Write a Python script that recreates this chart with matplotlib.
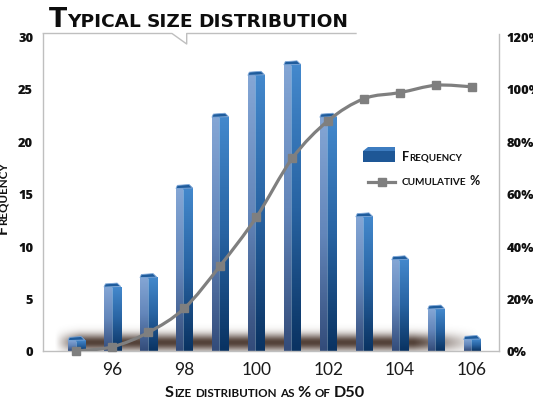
import numpy as np
import matplotlib
matplotlib.use("Agg")
import matplotlib.pyplot as plt
from matplotlib.colors import LinearSegmentedColormap
from matplotlib.lines import Line2D
from matplotlib.patches import PathPatch, Polygon, Rectangle
from matplotlib.path import Path

W, H = 533, 406

sizes = [95, 96, 97, 98, 99, 100, 101, 102, 103, 104, 105, 106]
frequency = [1.0, 6.1, 7.0, 15.5, 22.3, 26.3, 27.3, 22.3, 12.8, 8.7, 4.0, 1.1]
cumulative_pct = [0.0, 1.6, 7.1, 16.3, 32.6, 51.0, 73.5, 87.9, 96.3, 98.6, 101.4, 100.8]

x_ticks = [96, 98, 100, 102, 104, 106]
freq_ticks = [0, 5, 10, 15, 20, 25, 30]
pct_ticks = [0, 20, 40, 60, 80, 100, 120]

FONT = "Lato"
TICK_FONT = "Open Sans"
TITLE_FONT = "DejaVu Sans"
GRID = "#bfbfbf"
LINE = "#7f7f7f"

right_face = LinearSegmentedColormap.from_list("rf", ["#0a3362", "#2863a2", "#4388cc"])
left_face = LinearSegmentedColormap.from_list("lf", ["#334c7a", "#6386ba", "#84a6d5"])


def px(x, y):
    return x / W, 1 - y / H


def smallcaps(fig, x, y, text, big, small, center=False, rotation=0,
              family=FONT, **kw):
    # fake small caps: capitals/digits/% big, lower case letters as small capitals
    renderer = fig.canvas.get_renderer()
    pieces = []
    for i, word in enumerate(text.split(" ")):
        if i:
            pieces.append(None)
        run, size = "", None
        for ch in word:
            s = small if ch.islower() else big
            if size is not None and s != size:
                pieces.append((run, size))
                run = ""
            run += ch.upper()
            size = s
        pieces.append((run, size))

    artists, advances = [], []
    for p in pieces:
        if p is None:
            artists.append(None)
            advances.append(0.3 * small * 100 / 72)
            continue
        t = fig.text(0, 0, p[0], fontsize=p[1], rotation=rotation,
                     rotation_mode="anchor", ha="left", va="baseline",
                     family=family, **kw)
        bb = t.get_window_extent(renderer)
        advances.append(bb.height if rotation else bb.width)
        artists.append(t)

    pos = -sum(advances) / 2 if center else 0
    for t, a in zip(artists, advances):
        if t is not None:
            t.set_position(px(x, y - pos) if rotation else px(x + pos, y))
        pos += a


def smooth_path(xs, ys):
    pts = np.column_stack([xs, ys]).astype(float)
    verts = [pts[0]]
    codes = [Path.MOVETO]
    n = len(pts)
    for i in range(n - 1):
        p0 = pts[max(i - 1, 0)]
        p1, p2 = pts[i], pts[i + 1]
        p3 = pts[min(i + 2, n - 1)]
        verts += [p1 + (p2 - p0) / 6, p2 - (p3 - p1) / 6, p2]
        codes += [Path.CURVE4] * 3
    return Path(verts, codes)


fig = plt.figure(figsize=(W / 100, H / 100), dpi=100)
ax = fig.add_axes([43.3 / W, 54 / H, (498.7 - 43.3) / W, (352 - 34.5) / H])
ax.set_xlim(94.08, 106.74)
ax.set_ylim(0, 30 + 3 / 10.48)

# soft shadow on the floor
xs_img = np.linspace(94.3, 106.6, 300)
ys_img = np.linspace(-0.2, 3.2, 80)
gx = np.clip((xs_img - 94.4) / 0.7, 0, 1) * np.clip((106.2 - xs_img) / 1.8, 0, 1)
gy = np.exp(-((ys_img - 0.8) / 0.8) ** 2)
shadow = np.zeros((80, 300, 4))
shadow[..., 0], shadow[..., 1], shadow[..., 2] = 0.25, 0.17, 0.13
shadow[..., 3] = 0.9 * np.outer(gy, gx)
ax.imshow(shadow, extent=(94.3, 106.6, -0.2, 3.2), origin="lower",
          aspect="auto", zorder=1, interpolation="bilinear")

grad = np.linspace(0, 1, 64).reshape(-1, 1)
bw = 0.465
for x, v in zip(sizes, frequency):
    xl, xr = x - bw / 2, x + bw / 2
    xm = xl + 0.21
    ax.imshow(grad, cmap=left_face, extent=(xl, xm, 0, v), origin="lower",
              aspect="auto", zorder=2, interpolation="bilinear")
    ax.imshow(grad, cmap=right_face, extent=(xm, xr, 0, v), origin="lower",
              aspect="auto", zorder=2, interpolation="bilinear")
    ax.vlines(xm, 0, v, color="white", alpha=0.35, lw=0.6, zorder=3)
    cap = Polygon([(xl, v), (xl + 0.04, v + 0.3), (xr - 0.1, v + 0.38), (xr, v + 0.05)],
                  closed=True, facecolor="#1f5c9c", edgecolor="#7ea7d8",
                  lw=0.6, zorder=3)
    ax.add_patch(cap)

ax.set_xticks(x_ticks)
ax.set_xticklabels([str(t) for t in x_ticks], fontsize=12.5, family=FONT,
                   color="#1a1a1a")
ax.set_yticks(freq_ticks)
ax.set_yticklabels([str(t) for t in freq_ticks], fontsize=9.3, family=TICK_FONT,
                   fontweight=800, color="#111111")
ax.tick_params(axis="x", length=0, pad=7.5)
ax.tick_params(axis="y", length=0, pad=7.3)
ax.spines["top"].set_visible(False)
for side in ("left", "right", "bottom"):
    ax.spines[side].set_color(GRID)
    ax.spines[side].set_linewidth(1)

ax2 = ax.twinx()
ax2.set_ylim(0, 120 + 3 / 2.62)
ax2.set_yticks(pct_ticks)
ax2.set_yticklabels([f"{p}%" for p in pct_ticks], fontsize=9.3, family=TICK_FONT,
                    fontweight=800, color="#111111")
ax2.tick_params(axis="y", length=0, pad=5.5)
for side in ax2.spines:
    ax2.spines[side].set_visible(False)

ax2.add_patch(PathPatch(smooth_path(sizes, cumulative_pct), facecolor="none",
                        edgecolor=LINE, lw=2.3, zorder=4))
ax2.plot(sizes, cumulative_pct, linestyle="none", marker="s", markersize=6,
         color=LINE, clip_on=False, zorder=5)

# callout box line around the title
bubble = [(43.3, 34.5), (172, 34.5), (186.7, 45), (186.7, 34.5), (356, 34.5)]
fig.add_artist(Line2D([px(*p)[0] for p in bubble], [px(*p)[1] for p in bubble],
                      color=GRID, lw=1))

smallcaps(fig, 49, 26.7, "Typical size distribution", 19.2, 13.3,
          family=TITLE_FONT, fontweight="bold", color="#0d0d0d")
smallcaps(fig, 265, 396.7, "Size distribution as % of D50", 11.7, 8.4,
          center=True, fontweight="bold", color="#111111")
smallcaps(fig, 6.5, 198, "Frequency", 11.7, 8.4, center=True, rotation=90,
          fontweight="bold", color="#111111")

# legend
x0, y0 = px(363, 163)
x1, y1 = px(395, 152)
fig.add_artist(Rectangle((x0, y0), x1 - x0, y1 - y0, facecolor="#1e5796",
                         edgecolor="none", transform=fig.transFigure))
fig.add_artist(Polygon([px(363, 152), px(368, 148), px(395, 148), px(395, 152)],
                       closed=True, facecolor="#3d7cc0", edgecolor="none",
                       transform=fig.transFigure))
lx0, ly = px(368, 183)
lx1, _ = px(395, 183)
fig.add_artist(Line2D([lx0, lx1], [ly, ly], color=LINE, lw=2.3))
fig.add_artist(Line2D([(lx0 + lx1) / 2], [ly], marker="s", markersize=6,
                      color=LINE, linestyle="none"))
smallcaps(fig, 401.7, 160.7, "Frequency", 9, 7.0, fontweight="bold",
          color="#111111")
smallcaps(fig, 401.7, 185, "cumulative %", 9, 7.2, fontweight="bold",
          color="#111111")

fig.savefig("out.png", dpi=100)
